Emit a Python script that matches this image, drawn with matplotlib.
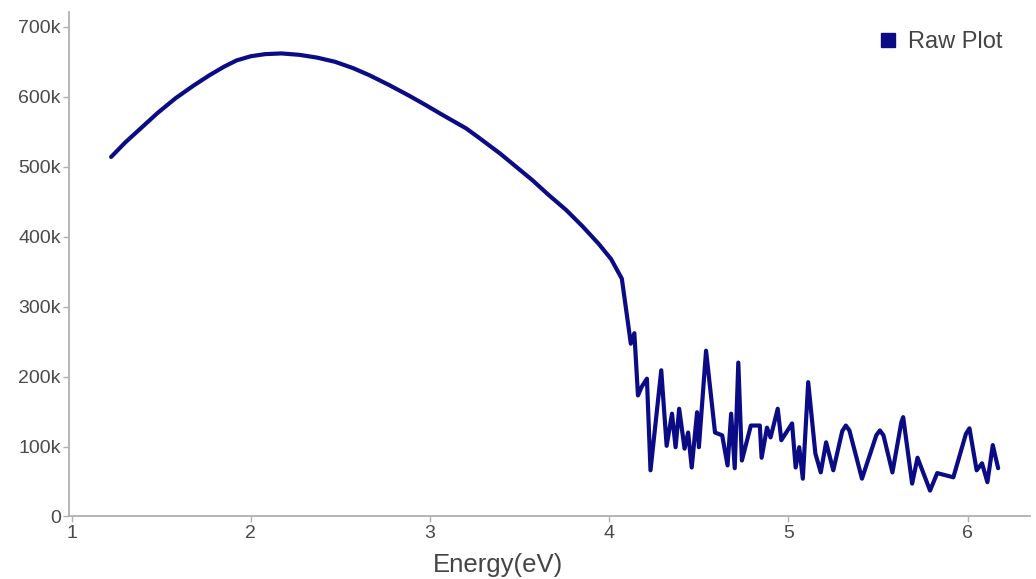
import matplotlib
matplotlib.use("Agg")
import matplotlib.pyplot as plt
from matplotlib.lines import Line2D

energy = [1.22, 1.30, 1.39, 1.48, 1.58, 1.68, 1.77, 1.85, 1.92, 2.00, 2.08, 2.17,
          2.27, 2.37, 2.47, 2.57, 2.66, 2.77, 2.88, 2.97, 3.07, 3.20, 3.27, 3.39,
          3.48, 3.57, 3.66, 3.76, 3.85, 3.94, 4.01, 4.07,
          4.11, 4.12, 4.14, 4.16, 4.18, 4.21, 4.23, 4.29, 4.32, 4.35, 4.37, 4.39,
          4.42, 4.44, 4.46, 4.49, 4.50, 4.54, 4.59, 4.63, 4.66, 4.68, 4.70, 4.72,
          4.74, 4.79, 4.84, 4.85, 4.88, 4.90, 4.94, 4.96, 5.02, 5.04, 5.06, 5.08,
          5.11, 5.15, 5.18, 5.21, 5.25, 5.30, 5.32, 5.34, 5.41, 5.49, 5.51, 5.53,
          5.58, 5.63, 5.64, 5.69, 5.72, 5.79, 5.83, 5.92, 5.99, 6.01, 6.05, 6.08,
          6.11, 6.14, 6.17]
intensity_k = [514, 535, 556, 577, 598, 616, 631, 643, 652, 658, 661, 662,
               660, 656, 650, 641, 631, 617, 602, 589, 574, 555, 542, 519,
               500, 481, 460, 438, 415, 390, 368, 340,
               266, 247, 262, 173, 185, 197, 66, 209, 101, 147, 99, 154,
               97, 120, 70, 149, 99, 237, 120, 116, 73, 147, 69, 220,
               80, 130, 130, 84, 127, 113, 154, 109, 133, 70, 99, 54,
               192, 90, 63, 106, 66, 122, 130, 123, 54, 116, 123, 116,
               63, 135, 142, 47, 84, 37, 62, 56, 118, 126, 66, 76,
               49, 102, 69]
intensity = [v * 1000 for v in intensity_k]

x_ticks = [1, 2, 3, 4, 5, 6]
y_ticks = [0, 100000, 200000, 300000, 400000, 500000, 600000, 700000]
y_tick_labels = ["0", "100k", "200k", "300k", "400k", "500k", "600k", "700k"]

plt.rcParams['font.family'] = ['Liberation Sans', 'DejaVu Sans']

fig = plt.figure(figsize=(10.36, 5.79), dpi=100)
ax = fig.add_axes([0.0666, 0.108, 0.928, 0.871])

line_color = "#0b0b86"
ax.plot(energy, intensity, color=line_color, lw=3.0, solid_joinstyle='round',
        solid_capstyle='round', label="Raw Plot")

ax.set_xlim(0.985, 6.35)
ax.set_ylim(0, 721000)
ax.set_xticks(x_ticks)
ax.set_xticklabels([str(t) for t in x_ticks])
ax.set_yticks(y_ticks)
ax.set_yticklabels(y_tick_labels)

for s in ["top", "right"]:
    ax.spines[s].set_visible(False)
for s in ["left", "bottom"]:
    ax.spines[s].set_color("#b0b0b0")
    ax.spines[s].set_linewidth(1.3)
ax.tick_params(axis='both', colors="#b0b0b0", labelcolor="#4a4a4a",
               labelsize=14, length=4, width=1, pad=2)

ax.set_xlabel("Energy(eV)", fontsize=18.5, color="#444444", labelpad=9)
ax.xaxis.set_label_coords(0.446, -0.072)

handle = Line2D([], [], marker='s', color='none', markerfacecolor=line_color,
                markeredgecolor=line_color, markersize=10)
ax.legend([handle], ["Raw Plot"], loc="upper right", frameon=False,
          fontsize=17, handlelength=0.8, handletextpad=0.45, borderaxespad=0.0,
          labelcolor="#444444", bbox_to_anchor=(0.981, 0.981))

fig.savefig("out.png", dpi=100, facecolor="white")
